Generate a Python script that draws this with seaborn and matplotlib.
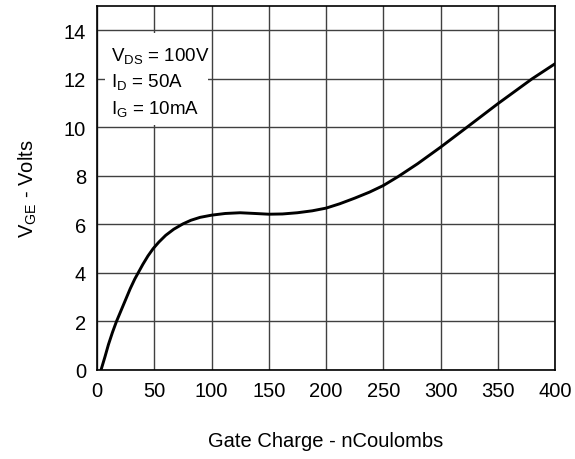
import matplotlib
matplotlib.use("Agg")
import matplotlib.pyplot as plt
import matplotlib.patches as mpatches
import seaborn as sns
import pandas as pd

gate_charge = [3.5, 7, 10, 13.5, 17, 21, 25, 29, 33, 36.5, 40, 44.5, 49, 54, 60, 67, 75, 82, 90,
               100, 112, 125, 138, 150, 162, 175, 188, 200, 212, 225, 238, 250, 263, 280, 300,
               323, 350, 380, 400]
vge = [0.0, 0.55, 1.05, 1.55, 2.0, 2.45, 2.9, 3.35, 3.75, 4.05, 4.35, 4.7, 5.0, 5.27, 5.55, 5.8,
       6.02, 6.17, 6.29, 6.38, 6.45, 6.48, 6.45, 6.42, 6.43, 6.48, 6.56, 6.67, 6.85, 7.08, 7.33,
       7.6, 7.97, 8.5, 9.18, 10.0, 10.97, 12.0, 12.62]
x_ticks = [0, 50, 100, 150, 200, 250, 300, 350, 400]
y_ticks = [0, 2, 4, 6, 8, 10, 12, 14]
notes = ["V$_{DS}$ = 100V", "I$_{D}$ = 50A", "I$_{G}$ = 10mA"]
note_y = [13.0, 11.9, 10.8]

df = pd.DataFrame({"Q": gate_charge, "V": vge})

sns.set_theme(style="white")
plt.rcParams["font.family"] = ["Liberation Sans", "DejaVu Sans"]
plt.rcParams["mathtext.fontset"] = "custom"
plt.rcParams["mathtext.rm"] = "Liberation Sans"
plt.rcParams["mathtext.it"] = "Liberation Sans"
plt.rcParams["mathtext.default"] = "regular"

fig = plt.figure(figsize=(5.75, 4.6), dpi=100)
ax = fig.add_axes([97/575, 89/460, 458/575, 364/460])

sns.lineplot(data=df, x="Q", y="V", ax=ax, color="black", linewidth=2.1, zorder=3)

ax.set_xlim(0, 400)
ax.set_ylim(0, 15)
ax.set_xticks(x_ticks)
ax.set_yticks(y_ticks)
ax.grid(True, color="#404040", linewidth=1.0)
ax.set_axisbelow(True)
for s in ax.spines.values():
    s.set_color("black")
    s.set_linewidth(1.2)
ax.tick_params(axis="both", length=0, labelsize=14.5, colors="black", pad=8)

ax.set_xlabel("Gate Charge - nCoulombs", fontsize=14.5, labelpad=22, color="black")
ax.set_ylabel("V$_{GE}$ - Volts", fontsize=14.5, labelpad=18, color="black")

ax.add_patch(mpatches.Rectangle((7, 10.1), 90, 3.8, facecolor="white", edgecolor="none", zorder=2))
for t, yv in zip(notes, note_y):
    ax.text(12.5, yv, t, fontsize=13.5, va="center", ha="left", zorder=4, color="black")

fig.savefig("out.png", dpi=100)
